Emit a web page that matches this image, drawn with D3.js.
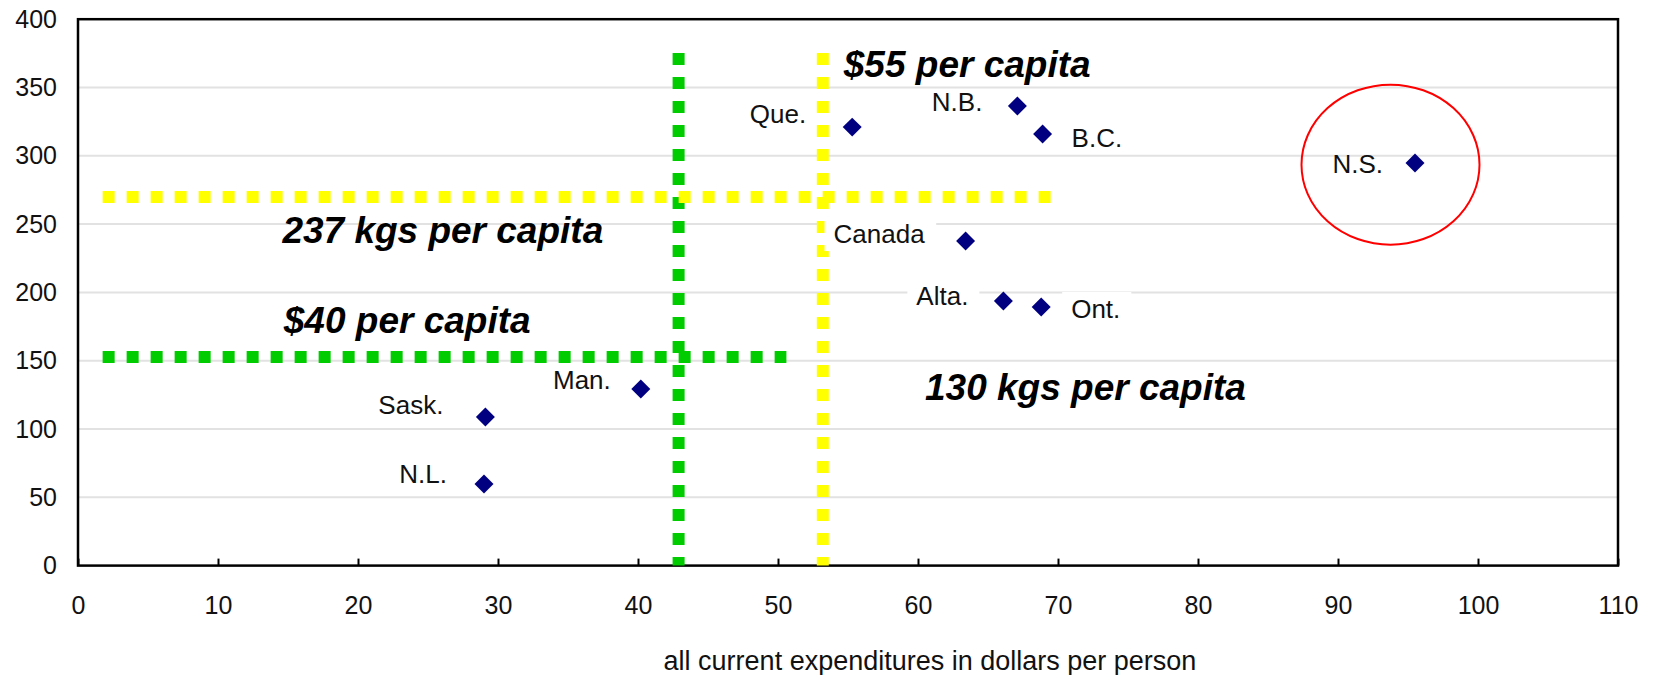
<!DOCTYPE html>
<html>
<head>
<meta charset="utf-8">
<script src="https://cdn.jsdelivr.net/npm/d3@7"></script>
<style>
	body { margin: 0; background: #fff; }
	text { font-family: "Liberation Sans", Arial, sans-serif; }
</style>
</head>
<body>
<script>
// values
const provinces = ["Que.", "N.B.", "B.C.", "N.S.", "Canada", "Alta.", "Ont.", "Man.", "Sask.", "N.L."];
const expenditure = [55.3, 67.1, 68.9, 95.5, 63.4, 66.1, 68.8, 40.2, 29.1, 29.0];
const wastePerCapita = [321, 336.5, 316, 294.7, 237.6, 193.7, 189.3, 129.3, 108.8, 59.7];

const xTicks = [0, 10, 20, 30, 40, 50, 60, 70, 80, 90, 100, 110];
const yTicks = [0, 50, 100, 150, 200, 250, 300, 350, 400];
const xTitle = "all current expenditures in dollars per person";

// dotted threshold lines
const dollarLines = [42.9, 53.2];
const dollarLineTop = 375.3;
const kgLines = [152.8, 269.8];
const kgLineStart = 1.76;
const kgLineEnd = [50.6, 69.5];

const notes = ["$55 per capita", "237 kgs per capita", "$40 per capita", "130 kgs per capita"];
const noteX = [54.7, 14.6, 14.7, 60.5];
const noteY = [357.7, 236.2, 170.3, 121.2];

// red circle round N.S.
const circleCenter = [93.75, 293.5];

// label placement (pixels from the marker)
const labelDx = [-46, -35, 29, -32, -41, -35, 30, -30, -42, -37];
const labelDy = [-4, 5, 13, 10, 2, 4, 11, 0, -3, -1];
const labelBoxed = [false, false, false, false, true, true, true, false, false, false];

const width = 1658, height = 675;
const plotLeft = 78, plotRight = 1618, plotTop = 19.2, plotBottom = 565.6;

const svg = d3.select("body").append("svg")
	.attr("width", width)
	.attr("height", height);

const x = d3.scaleLinear().domain([0, 110]).range([plotLeft, plotRight]);
const y = d3.scaleLinear().domain([0, 400]).range([plotBottom, plotTop]);

// gridlines
svg.append("g")
	.selectAll("line")
	.data(yTicks.filter((d) => d > 0 && d < 400))
	.enter()
	.append("line")
	.attr("x1", plotLeft)
	.attr("x2", plotRight)
	.attr("y1", (d) => y(d))
	.attr("y2", (d) => y(d))
	.attr("stroke", "#e2e2e2")
	.attr("stroke-width", 2);

// axes
let xAxis = d3.axisBottom(x).tickValues(xTicks).tickSizeInner(-7).tickSizeOuter(0).tickPadding(31);
let gx = svg.append("g")
	.attr("transform", "translate(0," + plotBottom + ")")
	.call(xAxis);
gx.select(".domain").remove();
gx.selectAll("line").attr("stroke", "#000").attr("stroke-width", 2);

let yAxis = d3.axisLeft(y).tickValues(yTicks).tickSize(0).tickPadding(21);
let gy = svg.append("g")
	.attr("transform", "translate(" + plotLeft + ",0)")
	.call(yAxis);
gy.select(".domain").remove();

svg.selectAll(".tick text")
	.attr("font-family", "Liberation Sans, Arial, sans-serif")
	.attr("font-size", 25)
	.attr("fill", "#111");

svg.append("text")
	.attr("x", 930)
	.attr("y", 670)
	.attr("text-anchor", "middle")
	.attr("font-size", 27)
	.attr("fill", "#111")
	.text(xTitle);

// frame
svg.append("rect")
	.attr("x", plotLeft)
	.attr("y", plotTop)
	.attr("width", plotRight - plotLeft)
	.attr("height", plotBottom - plotTop)
	.attr("fill", "none")
	.attr("stroke", "#000")
	.attr("stroke-width", 2.5);

// dotted lines
const lineColors = ["#00cc00", "#ffff00"];
svg.append("g")
	.selectAll("line")
	.data(dollarLines)
	.enter()
	.append("line")
	.attr("x1", (d) => x(d))
	.attr("x2", (d) => x(d))
	.attr("y1", y(dollarLineTop))
	.attr("y2", y(0))
	.attr("stroke", (d, i) => lineColors[i])
	.attr("stroke-width", 12)
	.attr("stroke-dasharray", "12,12");

svg.append("g")
	.selectAll("line")
	.data(kgLines)
	.enter()
	.append("line")
	.attr("x1", x(kgLineStart))
	.attr("x2", (d, i) => x(kgLineEnd[i]))
	.attr("y1", (d) => y(d))
	.attr("y2", (d) => y(d))
	.attr("stroke", (d, i) => lineColors[i])
	.attr("stroke-width", 12)
	.attr("stroke-dasharray", "12,12");

// labels
let labels = svg.append("g")
	.selectAll("g")
	.data(provinces)
	.enter()
	.append("g");

labels.append("text")
	.attr("x", (d, i) => x(expenditure[i]) + labelDx[i])
	.attr("y", (d, i) => y(wastePerCapita[i]) + labelDy[i])
	.attr("text-anchor", (d, i) => (labelDx[i] < 0 ? "end" : "start"))
	.attr("font-size", 26)
	.attr("fill", "#111")
	.text((d) => d);

labels.filter((d, i) => labelBoxed[i]).each(function () {
	let t = d3.select(this).select("text");
	let b = t.node().getBBox();
	d3.select(this).insert("rect", "text")
		.attr("x", b.x - 9)
		.attr("y", b.y - 2)
		.attr("width", b.width + 20)
		.attr("height", b.height + 4)
		.attr("fill", "#fff");
});

// markers
svg.append("g")
	.selectAll("path")
	.data(provinces)
	.enter()
	.append("path")
	.attr("d", d3.symbol().type(d3.symbolSquare).size(180))
	.attr("transform", (d, i) => "translate(" + x(expenditure[i]) + "," + y(wastePerCapita[i]) + ") rotate(45)")
	.attr("fill", "#000080")
	.append("title")
	.text((d, i) => d + ": " + expenditure[i] + ", " + wastePerCapita[i]);

// annotations
svg.append("g")
	.selectAll("text")
	.data(notes)
	.enter()
	.append("text")
	.attr("x", (d, i) => x(noteX[i]))
	.attr("y", (d, i) => y(noteY[i]))
	.attr("font-size", 37)
	.attr("font-weight", "bold")
	.attr("font-style", "italic")
	.attr("fill", "#000")
	.text((d) => d);

svg.append("ellipse")
	.attr("cx", x(circleCenter[0]))
	.attr("cy", y(circleCenter[1]))
	.attr("rx", 89)
	.attr("ry", 80)
	.attr("fill", "none")
	.attr("stroke", "#ff0000")
	.attr("stroke-width", 2);
</script>
</body>
</html>
